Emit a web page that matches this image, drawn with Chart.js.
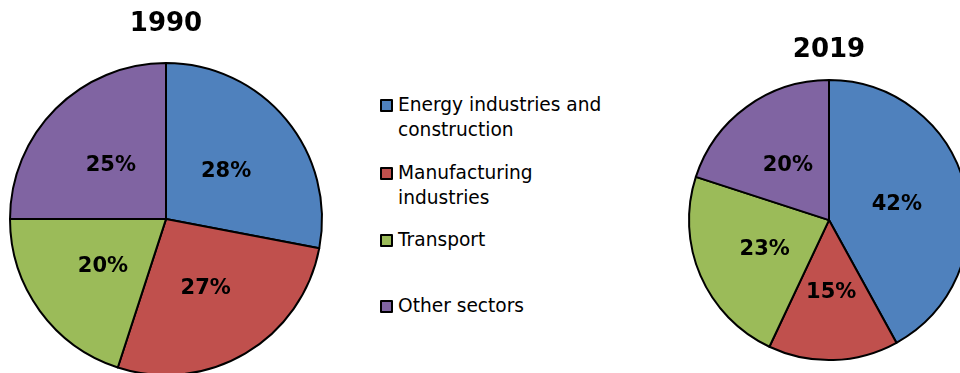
<!DOCTYPE html>
<html>
<head>
<meta charset="utf-8">
<script src="https://cdn.jsdelivr.net/npm/chart.js@4/dist/chart.umd.min.js"></script>
<style>
    html, body { margin: 0; padding: 0; background: #fff; overflow: hidden; width: 960px; height: 373px; }
    .pie { position: absolute; }
    #legend { position: absolute; left: 380px; top: 92px; margin: 0; padding: 0; list-style: none;
              font-family: "DejaVu Sans", sans-serif; font-size: 18.6px; line-height: 25px; color: #000; }
    #legend li { position: relative; padding-left: 18px; }
    #legend .box { position: absolute; left: 0; top: 7px; width: 9px; height: 9px; border: 2px solid #000; border-radius: 1px; }
</style>
</head>
<body>
<div class="pie" style="left:0; top:0; width:332px; height:380px;"><canvas id="pie1990"></canvas></div>
<div class="pie" style="left:679px; top:26px; width:300px; height:360px;"><canvas id="pie2019"></canvas></div>
<ul id="legend"></ul>

<script>
// sector shares, percent
const sectors = ['Energy industries and construction', 'Manufacturing industries', 'Transport', 'Other sectors'];
const legendLines = [['Energy industries and', 'construction'], ['Manufacturing', 'industries'], ['Transport'], ['Other sectors']];
const shares1990 = [28, 27, 20, 25];
const shares2019 = [42, 15, 23, 20];
const colors = ['#4F81BD', '#C0504D', '#9BBB59', '#8064A2'];

// gap below each legend entry
const legendGaps = [18, 17, 41, 0];

// percentage text in the middle of each slice
const sliceLabels = {
    id: 'sliceLabels',
    afterDatasetsDraw(chart) {
        const ctx = chart.ctx;
        const meta = chart.getDatasetMeta(0);
        const values = chart.data.datasets[0].data;
        ctx.save();
        ctx.font = 'bold 21px "DejaVu Sans", sans-serif';
        ctx.fillStyle = '#000';
        ctx.textAlign = 'center';
        ctx.textBaseline = 'middle';
        meta.data.forEach((arc, i) => {
            const p = arc.getCenterPoint();
            ctx.fillText(values[i] + '%', p.x, p.y + 2);
        });
        ctx.restore();
    }
};

function makePie(id, title, values, radius, padBottom) {
    const ctx = document.getElementById(id).getContext('2d');
    return new Chart(ctx, {
        type: 'pie',
        data: {
            labels: sectors,
            datasets: [{
                data: values,
                backgroundColor: colors,
                borderColor: '#000',
                borderWidth: 2,
                borderJoinStyle: 'round'
            }]
        },
        options: {
            responsive: true,
            maintainAspectRatio: false,
            animation: false,
            radius: radius,
            layout: { padding: { bottom: padBottom } },
            plugins: {
                legend: { display: false },
                tooltip: { enabled: false },
                title: {
                    display: true,
                    text: title,
                    color: '#000',
                    font: { family: '"DejaVu Sans", sans-serif', size: 26, weight: 'bold' },
                    padding: { top: 9, bottom: 18 }
                }
            }
        },
        plugins: [sliceLabels]
    });
}

makePie('pie1990', '1990', shares1990, 156, 0);
makePie('pie2019', '2019', shares2019, 140, 30);

// legend list built from the categories
const legend = document.getElementById('legend');
legendLines.forEach((lines, i) => {
    const li = document.createElement('li');
    li.style.marginBottom = legendGaps[i] + 'px';
    const box = document.createElement('span');
    box.className = 'box';
    box.style.background = colors[i];
    li.appendChild(box);
    lines.forEach((t, j) => {
        if (j) li.appendChild(document.createElement('br'));
        li.appendChild(document.createTextNode(t));
    });
    legend.appendChild(li);
});
</script>
</body>
</html>
